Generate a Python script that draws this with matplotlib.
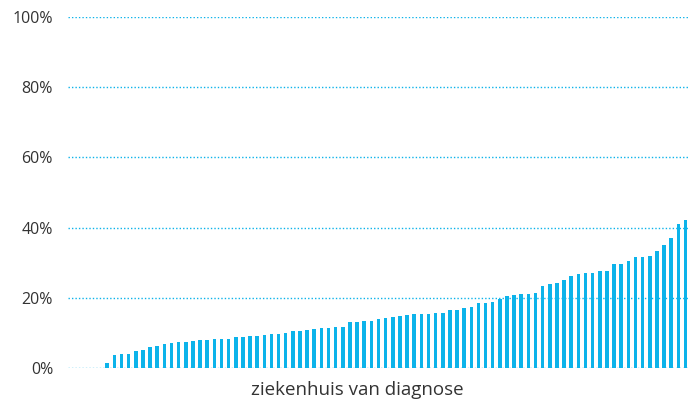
import numpy as np
import matplotlib
matplotlib.use("Agg")
import matplotlib.pyplot as plt
from matplotlib.ticker import FuncFormatter

plt.rcParams["font.family"] = ["Open Sans", "DejaVu Sans"]

# share per hospital (%), sorted ascending; first five hospitals have 0
percentages = [
    0, 0, 0, 0, 0,
    1.5, 3.6, 4.1, 4.1, 4.8, 5.0, 5.9, 6.3, 6.7, 7.0,
    7.3, 7.5, 7.8, 8.0, 8.0, 8.4, 8.4, 8.4, 8.7, 8.9,
    9.1, 9.1, 9.4, 9.6, 9.8, 10.0, 10.4, 10.5, 10.7, 11.0,
    11.5, 11.5, 11.6, 11.8, 13.0, 13.0, 13.3, 13.5, 13.9, 14.3,
    14.5, 14.8, 15.2, 15.3, 15.3, 15.5, 15.7, 15.7, 16.6, 16.6,
    17.0, 17.3, 18.4, 18.6, 18.7, 19.6, 20.4, 20.8, 21.0, 21.1,
    21.4, 23.5, 23.8, 24.2, 25.0, 26.3, 26.7, 27.2, 27.2, 27.5,
    27.7, 29.6, 29.7, 30.5, 31.5, 31.6, 31.9, 33.2, 35.0, 36.9,
    41.0, 42.1,
]
y_ticks = [0, 20, 40, 60, 80, 100]
x_label = "ziekenhuis van diagnose"

bar_color = "#0cb3ea"
text_color = "#333333"

fig = plt.figure(figsize=(6.89, 4.03), dpi=100)
ax = fig.add_axes([68 / 689, 35 / 403, 621 / 689, 351 / 403])

x = np.arange(len(percentages))
ax.bar(x, percentages, width=0.5, color=bar_color, zorder=2)

ax.set_xlim(-0.5, len(percentages) - 0.5)
ax.set_ylim(0, 100)
ax.set_yticks(y_ticks)
ax.yaxis.set_major_formatter(FuncFormatter(lambda v, _: f"{v:.0f}%"))
ax.set_xticks([])

ax.grid(axis="y", color=bar_color, linestyle=(0, (1, 1.5)), linewidth=1, zorder=1)
for s in ax.spines.values():
    s.set_visible(False)
ax.tick_params(axis="y", length=0, pad=10.8, labelsize=11.5, labelcolor=text_color)

# label sits a bit left of the axes centre in the original
fig.text(357 / 689, 8.3 / 403, x_label, ha="center", va="baseline",
         fontsize=13.5, color=text_color)

fig.savefig("out.png", dpi=100)
